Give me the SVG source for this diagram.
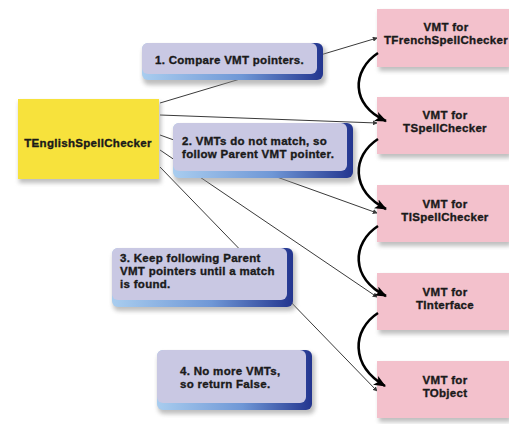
<svg xmlns="http://www.w3.org/2000/svg" width="509" height="424" viewBox="0 0 509 424">
  <style>
    .lbl { font-family: "Liberation Sans", Arial, sans-serif; font-weight: bold; font-size: 11.5px; letter-spacing: 0.3px; fill: #1a1a1a; stroke: #1a1a1a; stroke-width: 0.35; }
    .mid { text-anchor: middle; }
    .thin { fill: none; stroke: #3a3a3a; stroke-width: 1; }
    .hop { fill: none; stroke: #000; stroke-width: 2.6; }
    .vmt { fill: #f3c1cc; }
    .note-face { fill: #c9c8e3; }
    .shadow { fill: #8a8a8a; opacity: 0.55; }
  </style>
  <defs>
    <filter id="soft" x="-20%" y="-20%" width="140%" height="150%">
      <feGaussianBlur stdDeviation="2"/>
    </filter>
    <linearGradient id="rim" x1="0" y1="0" x2="1" y2="0">
      <stop offset="0" stop-color="#a9cdef"/>
      <stop offset="0.55" stop-color="#6f97d6"/>
      <stop offset="1" stop-color="#23358f"/>
    </linearGradient>
    <marker id="dot" viewBox="0 0 6 6" refX="5" refY="3" markerWidth="5" markerHeight="5" orient="auto" markerUnits="userSpaceOnUse">
      <path d="M0,0 L6,3 L0,6 z" fill="#3a3a3a"/>
    </marker>
    <marker id="head" viewBox="0 0 12 10" refX="11" refY="5" markerWidth="12" markerHeight="10" orient="auto" markerUnits="userSpaceOnUse">
      <path d="M0,0 L12,5 L0,10 L3,5 z" fill="#000"/>
    </marker>
  </defs>

  <rect width="509" height="424" fill="#ffffff"/>

  <!-- pointer lines from the object to each VMT -->
  <g id="connectors">
    <path class="thin" d="M160,103 L377,38" marker-end="url(#dot)"/>
    <path class="thin" d="M160,115 L377,123" marker-end="url(#dot)"/>
    <path class="thin" d="M160,135 L377,213" marker-end="url(#dot)"/>
    <path class="thin" d="M160,150 L377,297" marker-end="url(#dot)"/>
    <path class="thin" d="M160,167 L377,391" marker-end="url(#dot)"/>
  </g>

  <!-- object instance -->
  <g id="english">
    <rect class="shadow" x="19" y="102" width="142" height="81" filter="url(#soft)"/>
    <rect x="18" y="99" width="141" height="80" fill="#f7e23c"/>
    <text class="lbl mid" x="88" y="147">TEnglishSpellChecker</text>
  </g>

  <!-- VMT chain -->
  <g id="vmt-french">
    <rect class="shadow" x="379" y="12" width="132" height="59" filter="url(#soft)"/>
    <rect class="vmt" x="377" y="9" width="132" height="58"/>
    <text class="lbl mid" x="446" y="31">VMT for</text>
    <text class="lbl mid" x="446" y="44">TFrenchSpellChecker</text>
  </g>
  <g id="vmt-spell">
    <rect class="shadow" x="379" y="100" width="132" height="58" filter="url(#soft)"/>
    <rect class="vmt" x="377" y="97" width="132" height="57"/>
    <text class="lbl mid" x="445" y="119">VMT for</text>
    <text class="lbl mid" x="445" y="132">TSpellChecker</text>
  </g>
  <g id="vmt-ispell">
    <rect class="shadow" x="379" y="188" width="132" height="58" filter="url(#soft)"/>
    <rect class="vmt" x="377" y="185" width="132" height="57"/>
    <text class="lbl mid" x="445" y="208">VMT for</text>
    <text class="lbl mid" x="445" y="221">TISpellChecker</text>
  </g>
  <g id="vmt-interface">
    <rect class="shadow" x="379" y="276" width="132" height="58" filter="url(#soft)"/>
    <rect class="vmt" x="377" y="273" width="132" height="57"/>
    <text class="lbl mid" x="445" y="296">VMT for</text>
    <text class="lbl mid" x="445" y="309">TInterface</text>
  </g>
  <g id="vmt-object">
    <rect class="shadow" x="379" y="364" width="132" height="58" filter="url(#soft)"/>
    <rect class="vmt" x="377" y="361" width="132" height="57"/>
    <text class="lbl mid" x="445" y="384">VMT for</text>
    <text class="lbl mid" x="445" y="397">TObject</text>
  </g>

  <!-- parent pointer hops -->
  <g id="parent-links">
    <path class="hop" d="M378,53 C352,70 350,105 386,121" marker-end="url(#head)"/>
    <path class="hop" d="M378,139 C352,156 350,190 386,209" marker-end="url(#head)"/>
    <path class="hop" d="M378,226 C352,243 350,278 386,296" marker-end="url(#head)"/>
    <path class="hop" d="M378,313 C352,330 350,365 385,386" marker-end="url(#head)"/>
  </g>

  <!-- step notes -->
  <g id="step1">
    <rect class="shadow" x="143" y="46" width="183" height="39" rx="6" filter="url(#soft)"/>
    <rect x="142" y="43" width="181" height="37" rx="6" fill="url(#rim)"/>
    <rect class="note-face" x="142" y="43" width="175" height="31" rx="6"/>
    <text class="lbl" x="155" y="64">1. Compare VMT pointers.</text>
  </g>
  <g id="step2">
    <rect class="shadow" x="174" y="126" width="182" height="57" rx="6" filter="url(#soft)"/>
    <rect x="173" y="123" width="180" height="55" rx="6" fill="url(#rim)"/>
    <rect class="note-face" x="173" y="123" width="174" height="48" rx="6"/>
    <text class="lbl" x="182" y="145">2. VMTs do not match, so</text>
    <text class="lbl" x="182" y="158">follow Parent VMT pointer.</text>
  </g>
  <g id="step3">
    <rect class="shadow" x="113" y="251" width="183" height="60" rx="6" filter="url(#soft)"/>
    <rect x="112" y="248" width="181" height="59" rx="6" fill="url(#rim)"/>
    <rect class="note-face" x="112" y="248" width="175" height="52" rx="6"/>
    <text class="lbl" x="120" y="262">3. Keep following Parent</text>
    <text class="lbl" x="120" y="275">VMT pointers until a match</text>
    <text class="lbl" x="120" y="288">is found.</text>
  </g>
  <g id="step4">
    <rect class="shadow" x="158" y="353" width="157" height="61" rx="6" filter="url(#soft)"/>
    <rect x="157" y="350" width="155" height="60" rx="6" fill="url(#rim)"/>
    <rect class="note-face" x="157" y="350" width="149" height="53" rx="6"/>
    <text class="lbl" x="180" y="375">4. No more VMTs,</text>
    <text class="lbl" x="180" y="388">so return False.</text>
  </g>
</svg>
